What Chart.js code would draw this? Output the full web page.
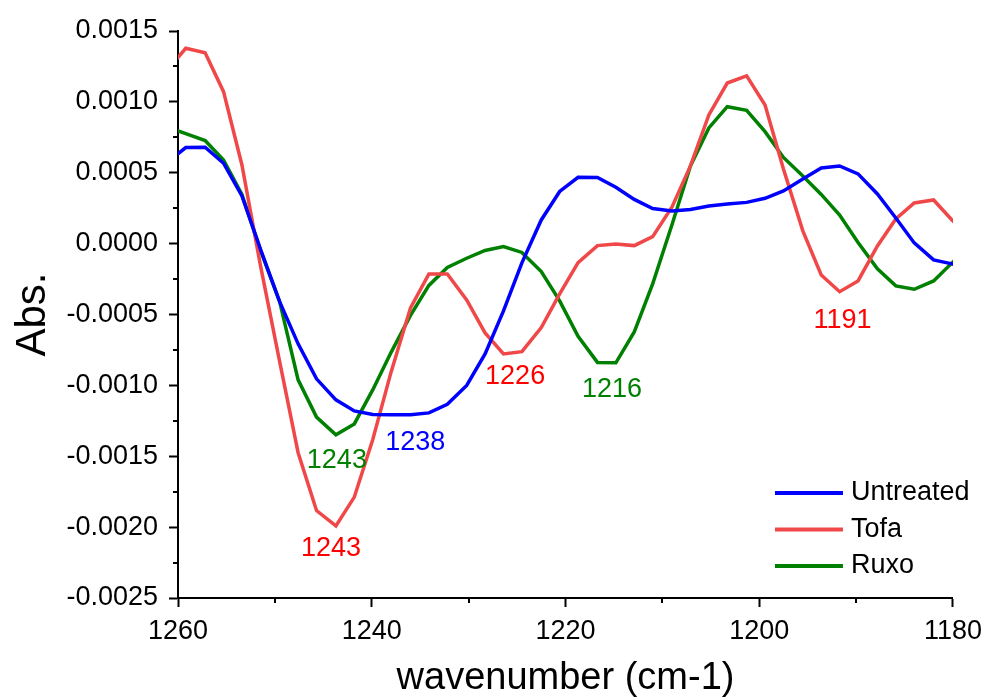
<!DOCTYPE html>
<html>
<head>
<meta charset="utf-8">
<script src="https://cdn.jsdelivr.net/npm/chart.js@4.4.1/dist/chart.umd.min.js"></script>
<style>
  html, body { margin: 0; padding: 0; background: #fff; }
  #wrap { width: 990px; height: 698px; }
</style>
</head>
<body>
<div id="wrap"><canvas id="c" width="990" height="698"></canvas></div>
<script>
// ---- data ----
const wavenumbers = [1261.1, 1259.2, 1257.2, 1255.3, 1253.4, 1251.5, 1249.5, 1247.6, 1245.7, 1243.7,
  1241.8, 1239.9, 1238.0, 1236.0, 1234.1, 1232.2, 1230.2, 1228.3, 1226.4, 1224.5,
  1222.5, 1220.6, 1218.7, 1216.7, 1214.8, 1212.9, 1211.0, 1209.0, 1207.1, 1205.2,
  1203.3, 1201.3, 1199.4, 1197.5, 1195.5, 1193.6, 1191.7, 1189.8, 1187.8, 1185.9,
  1184.0, 1182.0, 1180.1, 1178.2];

const untreated = [0.000573, 0.000678, 0.000680, 0.000567, 0.000336, -0.000037, -0.000411, -0.000707, -0.000954, -0.001102,
  -0.001180, -0.001205, -0.001208, -0.001208, -0.001194, -0.001134, -0.001000, -0.000778, -0.000475, -0.000136,
  0.000167, 0.000368, 0.000468, 0.000467, 0.000398, 0.000312, 0.000248, 0.000231, 0.000241, 0.000266,
  0.000280, 0.000291, 0.000320, 0.000372, 0.000456, 0.000534, 0.000548, 0.000492, 0.000350, 0.000181,
  0.000005, -0.000115, -0.000143, -0.000171];

const tofa = [0.001225, 0.001378, 0.001347, 0.001072, 0.000555, -0.000150, -0.000834, -0.001475, -0.001883, -0.001991,
  -0.001788, -0.001384, -0.000905, -0.000453, -0.000214, -0.000214, -0.000397, -0.000630, -0.000778, -0.000762,
  -0.000592, -0.000355, -0.000134, -0.000014, -0.000002, -0.000014, 0.000049, 0.000259, 0.000548, 0.000908,
  0.001133, 0.001183, 0.000978, 0.000527, 0.000090, -0.000221, -0.000339, -0.000263, -0.000016, 0.000174,
  0.000287, 0.000308, 0.000167, 0.000026];

const ruxo = [0.000823, 0.000776, 0.000727, 0.000590, 0.000347, -0.000044, -0.000411, -0.000961, -0.001224, -0.001349,
  -0.001272, -0.001032, -0.000767, -0.000506, -0.000295, -0.000168, -0.000103, -0.000048, -0.000020, -0.000062,
  -0.000197, -0.000404, -0.000654, -0.000838, -0.000841, -0.000623, -0.000284, 0.000135, 0.000548, 0.000816,
  0.000966, 0.000941, 0.000790, 0.000608, 0.000477, 0.000347, 0.000202, 0.000008, -0.000178, -0.000298,
  -0.000322, -0.000263, -0.000136, -0.000009];

const seriesNames = ['Untreated', 'Tofa', 'Ruxo'];
const xTicks = [1260, 1240, 1220, 1200, 1180];
const yTicks = [-0.0025, -0.0020, -0.0015, -0.0010, -0.0005, 0.0000, 0.0005, 0.0010, 0.0015];

// peak annotations: text, label anchor (wavenumber, Abs.), series index
const peakTexts = ['1243', '1243', '1238', '1226', '1216', '1191'];
const peakX = [1244.2, 1243.6, 1235.5, 1225.2, 1215.2, 1191.4];
const peakY = [-0.00215, -0.00153, -0.00140, -0.00094, -0.00103, -0.00054];
const peakSeries = [1, 2, 0, 1, 2, 1];

// ---- styles ----
const FONT = '"Liberation Sans", Arial, sans-serif';
const lineColors = ['#0000FF', '#F04848', '#008000'];
const textColors = ['#0000FF', '#FF0000', '#008000'];

const toPts = arr => arr.map((v, i) => ({ x: wavenumbers[i], y: v }));
const seriesData = [untreated, tofa, ruxo];

const minorTicks = {
  id: 'minorTicks',
  afterDraw(chart) {
    const ctx = chart.ctx, xs = chart.scales.x, ys = chart.scales.y;
    const a = chart.chartArea;
    ctx.save();
    ctx.strokeStyle = '#000';
    ctx.lineWidth = 2;
    for (let i = 0; i < yTicks.length - 1; i++) {
      const v = (yTicks[i] + yTicks[i + 1]) / 2;
      const p = Math.round(ys.getPixelForValue(v));
      ctx.beginPath(); ctx.moveTo(a.left - 5, p); ctx.lineTo(a.left, p); ctx.stroke();
    }
    for (let i = 0; i < xTicks.length - 1; i++) {
      const v = (xTicks[i] + xTicks[i + 1]) / 2;
      const p = Math.round(xs.getPixelForValue(v));
      ctx.beginPath(); ctx.moveTo(p, a.bottom); ctx.lineTo(p, a.bottom + 5); ctx.stroke();
    }
    ctx.restore();
  }
};

const annotations = {
  id: 'annotations',
  afterDatasetsDraw(chart) {
    const ctx = chart.ctx, xs = chart.scales.x, ys = chart.scales.y;
    ctx.save();
    ctx.font = '27px ' + FONT;
    ctx.textAlign = 'center';
    ctx.textBaseline = 'middle';
    peakTexts.forEach((t, i) => {
      ctx.fillStyle = textColors[peakSeries[i]];
      ctx.fillText(t, xs.getPixelForValue(peakX[i]), ys.getPixelForValue(peakY[i]));
    });
    ctx.restore();
  }
};

const customLegend = {
  id: 'customLegend',
  afterDraw(chart) {
    const ctx = chart.ctx;
    const a = chart.chartArea;
    ctx.save();
    ctx.font = '27px ' + FONT;
    ctx.textAlign = 'left';
    ctx.textBaseline = 'middle';
    chart.data.datasets.forEach((ds, i) => {
      const y = a.bottom - 105 + i * 36.5;
      const x0 = a.right - 178;
      ctx.strokeStyle = ds.borderColor;
      ctx.lineWidth = 4;
      ctx.beginPath(); ctx.moveTo(x0, y); ctx.lineTo(x0 + 68, y); ctx.stroke();
      ctx.fillStyle = '#000';
      ctx.fillText(ds.label, x0 + 76, y);
    });
    ctx.restore();
  }
};

new Chart(document.getElementById('c'), {
  type: 'line',
  data: {
    datasets: seriesData.map((arr, i) => ({
      label: seriesNames[i],
      data: toPts(arr),
      borderColor: lineColors[i],
      backgroundColor: lineColors[i],
      borderWidth: 3.5,
      pointRadius: 0,
      tension: 0,
      fill: false,
      clip: 0
    }))
  },
  options: {
    responsive: false,
    animation: false,
    devicePixelRatio: 1,
    layout: { padding: { top: 31, right: 33, left: 0, bottom: 0 } },
    plugins: { legend: { display: false }, tooltip: { enabled: false } },
    scales: {
      x: {
        type: 'linear',
        reverse: true,
        min: 1180, max: 1260,
        afterFit: s => { s.height = 100; },
        afterBuildTicks: s => { s.ticks = xTicks.map(v => ({ value: v })); },
        ticks: {
          color: '#000',
          font: { family: FONT, size: 27 },
          padding: 8,
          maxRotation: 0,
          callback: v => String(v)
        },
        grid: { drawOnChartArea: false, drawTicks: true, tickLength: 9, tickWidth: 2, tickColor: '#000' },
        border: { display: true, color: '#000', width: 2 },
        title: {
          display: true,
          text: 'wavenumber (cm-1)',
          color: '#000',
          font: { family: FONT, size: 38, lineHeight: 1 },
          padding: { top: 0, bottom: 0 }
        }
      },
      y: {
        type: 'linear',
        min: -0.0025, max: 0.0015,
        afterFit: s => { s.width = 178; },
        afterBuildTicks: s => { s.ticks = yTicks.map(v => ({ value: v })); },
        ticks: {
          color: '#000',
          font: { family: FONT, size: 27 },
          padding: 11,
          callback: v => (Math.round(v * 1e4) / 1e4 === 0 ? 0 : v).toFixed(4)
        },
        grid: { drawOnChartArea: false, drawTicks: true, tickLength: 9, tickWidth: 2, tickColor: '#000' },
        border: { display: true, color: '#000', width: 2 },
        title: {
          display: true,
          text: 'Abs.',
          color: '#000',
          font: { family: FONT, size: 42, lineHeight: 1 },
          padding: { top: 12, bottom: 0 }
        }
      }
    }
  },
  plugins: [minorTicks, annotations, customLegend]
});
</script>
</body>
</html>
